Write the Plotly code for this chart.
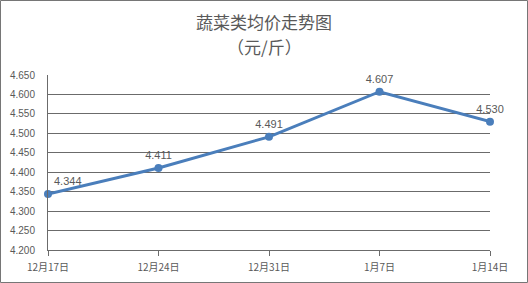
import plotly.graph_objects as go

categories = ["12月17日", "12月24日", "12月31日", "1月7日", "1月14日"]
values = [4.344, 4.411, 4.491, 4.607, 4.530]
y_ticks = [4.200, 4.250, 4.300, 4.350, 4.400, 4.450, 4.500, 4.550, 4.600, 4.650]
title_lines = ["蔬菜类均价走势图", "（元/斤）"]

W, H = 528, 283
ml, mr, mt, mb = 48, 38, 75, 33
pw, ph = W - ml - mr, H - mt - mb

xs = list(range(len(categories)))
positions = ["top right", "top center", "top center", "top center", "top center"]

fig = go.Figure()
fig.add_trace(go.Scatter(
    x=xs, y=values, mode="lines+markers+text",
    line=dict(color="#4a7ebb", width=3),
    marker=dict(color="#4a7ebb", size=8),
    text=[f"{v:.3f}" for v in values],
    textposition=positions,
    textfont=dict(family="Liberation Sans, Arial", size=11, color="#595959"),
    cliponaxis=False,
    hoverinfo="skip",
))

fig.update_layout(
    width=W, height=H,
    margin=dict(l=ml, r=mr, t=mt, b=mb, autoexpand=False),
    paper_bgcolor="white", plot_bgcolor="white",
    showlegend=False,
    xaxis=dict(
        range=[0, len(categories) - 1],
        tickvals=xs, ticktext=categories,
        showgrid=False, zeroline=False, automargin=False,
        showline=True, linecolor="#6b6b6b", linewidth=1,
        ticks="outside", ticklen=5, tickcolor="#6b6b6b",
        ticklabelstandoff=3,
        tickfont=dict(family="Noto Sans CJK SC", size=10, color="#595959"),
    ),
    yaxis=dict(
        range=[y_ticks[0], y_ticks[-1]],
        tickvals=y_ticks, ticktext=[f"{t:.3f}" for t in y_ticks],
        showgrid=True, gridcolor="#6b6b6b", gridwidth=1,
        zeroline=False, showline=True, linecolor="#6b6b6b", linewidth=1,
        ticks="", ticklabelstandoff=10, automargin=False,
        tickfont=dict(family="Liberation Sans, Arial", size=10, color="#595959"),
    ),
)

for i, (line, yc) in enumerate(zip(title_lines, [22, 46])):
    fig.add_annotation(
        text=line, xref="paper", yref="paper",
        x=(W / 2 - ml) / pw, y=(H - mb - yc) / ph,
        xanchor="center", yanchor="middle", showarrow=False,
        font=dict(family="Noto Sans CJK SC", size=17, color="#595959"),
    )

fig.add_shape(
    type="rect", xref="paper", yref="paper",
    x0=(-ml + 0.5) / pw, x1=(W - ml - 0.5) / pw,
    y0=(-mb + 0.5) / ph, y1=(H - mb - 0.5) / ph,
    line=dict(color="#767676", width=1), fillcolor="rgba(0,0,0,0)",
    layer="below",
)

fig.write_html("out.html")
